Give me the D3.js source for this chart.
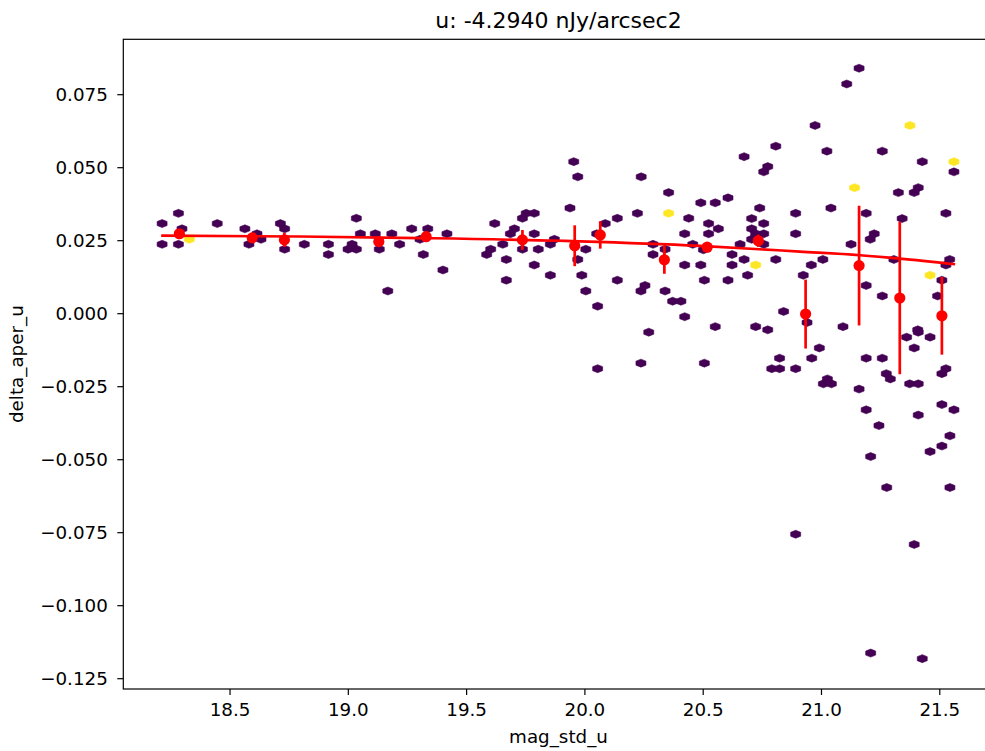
<!DOCTYPE html>
<html lang="en">
<head>
  <meta charset="UTF-8">
  <title>u: -4.2940 nJy/arcsec2</title>
  <script src="https://d3js.org/d3.v7.min.js"></script>
  <style>
    body { margin: 0; background: #fff; }
    text { font-family: "DejaVu Sans", sans-serif; fill: #000; }
  </style>
</head>
<body>
  <script>
    // hexbin cells with count 1 (dark) and count 2 (bright)
    const magStd = [
      18.215, 18.215, 18.284, 18.299, 18.284, 18.448, 18.565, 18.582, 18.616, 18.633,
      18.715, 18.733, 18.733, 18.816, 18.918, 18.918, 19.001, 19.018, 19.036, 19.036,
      19.053, 19.116, 19.133, 19.169, 19.186, 19.219, 19.270, 19.305, 19.319, 19.338,
      19.402, 19.419, 19.587, 19.604, 19.621, 19.655, 19.670, 19.670, 19.687, 19.704,
      19.738, 19.754, 19.788, 19.788, 19.738, 19.788, 19.805, 19.856, 19.873, 19.856,
      19.939, 19.955, 19.972, 19.972, 20.006, 19.989, 20.006, 20.056, 20.052, 20.088,
      20.139, 20.139, 20.224, 20.240, 20.290, 20.290, 20.239, 20.256, 20.341, 20.356,
      20.341, 20.373, 20.408, 20.441, 20.424, 20.458, 20.424, 20.424, 20.492, 20.525,
      20.525, 20.492, 20.507, 20.553, 20.566, 20.503, 20.553, 20.056, 20.272, 20.239,
      20.507, 21.161, 21.109, 20.975, 20.809, 20.675, 21.025, 21.259, 20.775, 20.758,
      21.428, 21.562, 21.411, 21.394, 21.327, 20.607, 20.741, 20.893, 21.042, 21.191,
      21.343, 21.528, 20.707, 20.758, 20.707, 20.758, 20.724, 20.707, 20.758, 20.658,
      20.893, 20.624, 20.675, 20.809, 20.624, 20.607, 20.690, 20.925, 20.959, 21.008,
      21.127, 21.225, 21.208, 21.308, 21.544, 21.528, 21.511, 21.191, 21.259, 21.493,
      20.842, 20.724, 20.775, 21.093, 21.409, 20.941, 20.825, 20.792, 20.825, 20.893,
      20.961, 20.993, 21.010, 21.027, 21.044, 21.161, 21.191, 21.259, 21.276, 21.293,
      21.362, 21.411, 21.461, 21.394, 21.375, 21.411, 21.528, 21.511, 21.511, 21.562,
      21.191, 21.411, 21.245, 21.545, 21.511, 21.461, 21.210, 21.278, 21.545, 20.893,
      21.394, 21.210, 21.428
    ];
    const deltaAper = [
      0.0307, 0.0236, 0.0342, 0.0289, 0.0236, 0.0307, 0.0289, 0.0236, 0.0272, 0.0253,
      0.0307, 0.0289, 0.0219, 0.0236, 0.0236, 0.0201, 0.0219, 0.0236, 0.0219, 0.0325,
      0.0272, 0.0272, 0.0219, 0.0076, 0.0272, 0.0236, 0.0289, 0.0253, 0.0201, 0.0289,
      0.0148, 0.0272, 0.0201, 0.0219, 0.0307, 0.0236, 0.0184, 0.0113, 0.0272, 0.0289,
      0.0325, 0.0342, 0.0342, 0.0272, 0.0219, 0.0165, 0.0219, 0.0236, 0.0253, 0.0130,
      0.0360, 0.0519, 0.0467, 0.0184, 0.0219, 0.0130, 0.0076, 0.0024, 0.0272, 0.0307,
      0.0325, 0.0113, 0.0342, 0.0467, 0.0236, 0.0201, 0.0076, 0.0095, 0.0219, 0.0413,
      0.0076, 0.0041, 0.0041, 0.0325, 0.0272, 0.0236, 0.0165, -0.0012, 0.0378, 0.0307,
      0.0272, 0.0165, 0.0113, 0.0378, 0.0289, 0.0217, -0.0046, -0.0190, -0.0065, -0.0171,
      -0.0171, 0.0839, 0.0785, 0.0643, 0.0572, 0.0536, 0.0555, 0.0555, 0.0502, 0.0484,
      0.0519, 0.0484, 0.0430, 0.0413, 0.0413, 0.0395, 0.0360, 0.0342, 0.0360, 0.0342,
      0.0324, 0.0342, 0.0324, 0.0307, 0.0289, 0.0272, 0.0272, 0.0253, 0.0236, 0.0236,
      0.0272, 0.0201, 0.0184, 0.0184, 0.0165, 0.0113, 0.0130, 0.0130, 0.0165, 0.0184,
      0.0236, 0.0272, 0.0253, 0.0184, 0.0184, 0.0165, 0.0113, 0.0095, 0.0059, 0.0059,
      0.0006, -0.0046, -0.0057, -0.0046, -0.0057, -0.0032, -0.0154, -0.0190, -0.0190, -0.0190,
      -0.0154, -0.0119, -0.0242, -0.0225, -0.0242, -0.0260, -0.0154, -0.0154, -0.0207, -0.0225,
      -0.0082, -0.0065, -0.0082, -0.0119, -0.0242, -0.0242, -0.0190, -0.0207, -0.0313, -0.0331,
      -0.0331, -0.0349, -0.0385, -0.0420, -0.0455, -0.0474, -0.0491, -0.0597, -0.0597, -0.0757,
      -0.0792, -0.1164, -0.1183
    ];
    const magStd2 = [18.330, 20.356, 21.376, 21.562, 21.142, 20.724, 21.461];
    const deltaAper2 = [0.0253, 0.0342, 0.0643, 0.0519, 0.0430, 0.0165, 0.0130];

    // binned medians with errors
    const binMag = [18.288, 18.596, 18.732, 19.131, 19.331, 19.738, 19.959, 20.067,
                    20.338, 20.519, 20.735, 20.935, 21.161, 21.333, 21.511];
    const binDelta = [0.0272, 0.0258, 0.0251, 0.0245, 0.0262, 0.0251, 0.0231, 0.0268,
                      0.0183, 0.0226, 0.0248, -0.0003, 0.0163, 0.0052, -0.0009];
    const binErr = [0.0014, 0.0015, 0.0024, 0.0018, 0.0015, 0.0034, 0.0070, 0.0047,
                    0.0048, 0.0017, 0.0021, 0.0118, 0.0205, 0.0261, 0.0133];

    // fitted curve
    const fitMag = [18.211, 18.798, 19.305, 19.981, 20.489, 20.911, 21.165, 21.334, 21.567];
    const fitDelta = [0.02658, 0.02627, 0.02572, 0.02459, 0.02305, 0.02110, 0.01986, 0.01870, 0.01678];

    const xTicks = [18.5, 19.0, 19.5, 20.0, 20.5, 21.0, 21.5];
    const yTicks = [-0.125, -0.100, -0.075, -0.050, -0.025, 0.000, 0.025, 0.050, 0.075];

    const width = 985, height = 751;
    const mLeft = 123.3, mRight = 993.7, mTop = 39.3, mBottom = 689;

    const svg = d3.select("body").append("svg")
      .attr("width", width)
      .attr("height", height);

    const x = d3.scaleLinear().domain([18.051, 21.73]).range([mLeft, mRight]);
    const y = d3.scaleLinear().domain([-0.1287, 0.0938]).range([mBottom, mTop]);

    const hw = 5.0, hh = 4.0;
    const hex = `M${hw},${-hh / 2}L${hw},${hh / 2}L0,${hh}L${-hw},${hh / 2}L${-hw},${-hh / 2}L0,${-hh}Z`;

    const cells = magStd.map((m, i) => ({ m, d: deltaAper[i], c: "#440154" }))
      .concat(magStd2.map((m, i) => ({ m, d: deltaAper2[i], c: "#fde725" })));

    svg.append("g")
      .selectAll("path")
      .data(cells)
      .join("path")
      .attr("d", hex)
      .attr("transform", d => `translate(${x(d.m)},${y(d.d)})`)
      .attr("fill", d => d.c)
      .attr("stroke", d => d.c)
      .attr("stroke-width", 0.6);

    const bins = binMag.map((m, i) => ({ m, d: binDelta[i], e: binErr[i] }));

    svg.append("g")
      .selectAll("line")
      .data(bins)
      .join("line")
      .attr("x1", d => x(d.m))
      .attr("x2", d => x(d.m))
      .attr("y1", d => y(d.d - d.e))
      .attr("y2", d => y(d.d + d.e))
      .attr("stroke", "red")
      .attr("stroke-width", 2.7);

    svg.append("g")
      .selectAll("circle")
      .data(bins)
      .join("circle")
      .attr("cx", d => x(d.m))
      .attr("cy", d => y(d.d))
      .attr("r", 5.6)
      .attr("fill", "red");

    const line = d3.line()
      .x(d => x(d[0]))
      .y(d => y(d[1]))
      .curve(d3.curveMonotoneX);

    svg.append("path")
      .datum(fitMag.map((m, i) => [m, fitDelta[i]]))
      .attr("d", line)
      .attr("fill", "none")
      .attr("stroke", "red")
      .attr("stroke-width", 2.6);

    // axes
    const xAxis = svg.append("g")
      .attr("transform", `translate(0,${mBottom})`)
      .call(d3.axisBottom(x).tickValues(xTicks).tickFormat(d3.format(".1f"))
        .tickSize(6).tickPadding(8.5).tickSizeOuter(0));
    const yAxis = svg.append("g")
      .attr("transform", `translate(${mLeft},0)`)
      .call(d3.axisLeft(y).tickValues(yTicks).tickFormat(d3.format(".3f"))
        .tickSize(6).tickPadding(9.5).tickSizeOuter(0));

    [xAxis, yAxis].forEach(g => {
      g.select(".domain").remove();
      g.selectAll(".tick line").attr("stroke", "#000").attr("stroke-width", 1.2);
      g.selectAll(".tick text").attr("font-size", 18.3).attr("font-family", "DejaVu Sans").attr("fill", "#000");
    });

    svg.append("rect")
      .attr("x", mLeft).attr("y", mTop)
      .attr("width", mRight - mLeft).attr("height", mBottom - mTop)
      .attr("fill", "none")
      .attr("stroke", "#000")
      .attr("stroke-width", 1.2);

    svg.append("text")
      .attr("x", (mLeft + mRight) / 2)
      .attr("y", 27.5)
      .attr("text-anchor", "middle")
      .attr("font-size", 22)
      .text("u: -4.2940 nJy/arcsec2");

    svg.append("text")
      .attr("x", (mLeft + mRight) / 2)
      .attr("y", 743)
      .attr("text-anchor", "middle")
      .attr("font-size", 18.3)
      .text("mag_std_u");

    svg.append("text")
      .attr("transform", `translate(23,${(mTop + mBottom) / 2}) rotate(-90)`)
      .attr("text-anchor", "middle")
      .attr("font-size", 18.3)
      .text("delta_aper_u");
  </script>
</body>
</html>
